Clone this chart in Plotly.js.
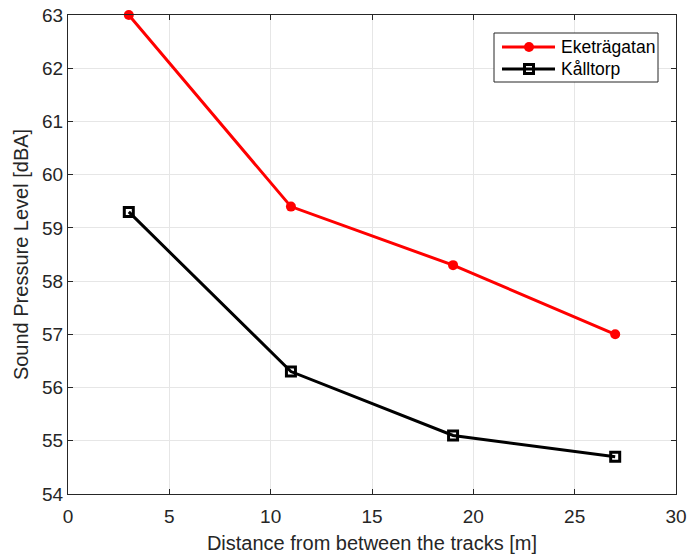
<!DOCTYPE html>
<html>
<head>
<meta charset="utf-8">
<script src="https://cdn.plot.ly/plotly-3.0.1.min.js"></script>
<style>html,body{margin:0;padding:0;background:#fff}#chart{width:688px;height:558px}</style>
</head>
<body>
<div id="chart"></div>
<script>
// Distance from the track centre line [m]
const distance = [3, 11, 19, 27];
// A-weighted sound pressure level per site [dBA]
const eketragatan = [63.0, 59.4, 58.3, 57.0];
const kalltorp = [59.3, 56.3, 55.1, 54.7];
const seriesNames = ['Eketrägatan', 'Kålltorp'];
const xTicks = [0, 5, 10, 15, 20, 25, 30];
const yTicks = [54, 55, 56, 57, 58, 59, 60, 61, 62, 63];

const W = 688, H = 558;
const M = {l: 68, r: 12, t: 15, b: 64};
const font = {family: 'Liberation Sans, Arial, sans-serif', color: '#262626'};
const RED = '#ff0000', BLACK = '#000000';

const traces = [
  {
    x: distance, y: eketragatan, name: seriesNames[0], mode: 'lines+markers',
    line: {color: RED, width: 3},
    marker: {symbol: 'circle', size: 10, color: RED},
    cliponaxis: false, showlegend: false
  },
  {
    x: distance, y: kalltorp, name: seriesNames[1], mode: 'lines+markers',
    line: {color: BLACK, width: 3},
    marker: {symbol: 'square-open', size: 9, color: BLACK, line: {width: 3, color: BLACK}},
    cliponaxis: false, showlegend: false
  }
];

// Pixel -> paper coordinate helpers for the boxed legend
const pw = W - M.l - M.r, ph = H - M.t - M.b;
const px = v => (v - M.l) / pw;
const py = v => (H - M.b - v) / ph;

const legend = {left: 494, right: 658, top: 33, bottom: 82, rows: [47, 69],
                lineFrom: 502, lineTo: 555, mark: 529, text: 559};

const shapes = [
  {type: 'rect', xref: 'paper', yref: 'paper',
   x0: px(legend.left), x1: px(legend.right), y0: py(legend.bottom), y1: py(legend.top),
   fillcolor: '#ffffff', line: {color: '#262626', width: 1}, layer: 'above'}
];
const annotations = [];
const legendStyles = [
  {color: RED, shape: 'circle', half: 5, fill: RED, lw: 0},
  {color: BLACK, shape: 'rect', half: 4.5, fill: 'rgba(0,0,0,0)', lw: 3}
];
seriesNames.forEach((name, i) => {
  const y = py(legend.rows[i]);
  const st = legendStyles[i];
  shapes.push({type: 'line', xref: 'paper', yref: 'paper',
    x0: px(legend.lineFrom), x1: px(legend.lineTo), y0: y, y1: y,
    line: {color: st.color, width: 3}, layer: 'above'});
  shapes.push({type: st.shape, xref: 'paper', yref: 'paper',
    xsizemode: 'pixel', ysizemode: 'pixel', xanchor: px(legend.mark), yanchor: y,
    x0: -st.half, x1: st.half, y0: -st.half, y1: st.half,
    fillcolor: st.fill, line: {color: st.color, width: st.lw}, layer: 'above'});
  annotations.push({xref: 'paper', yref: 'paper', x: px(legend.text), y: y,
    xanchor: 'left', yanchor: 'middle', showarrow: false, text: name,
    font: Object.assign({size: 17.5}, font, {color: BLACK})});
});

const axisCommon = {
  showline: true, mirror: 'ticks', linecolor: '#262626', linewidth: 1,
  ticks: 'inside', ticklen: 5, tickcolor: '#262626',
  showgrid: true, gridcolor: '#e6e6e6', gridwidth: 1, zeroline: false,
  tickfont: Object.assign({size: 19}, font)
};

const layout = {
  width: W, height: H,
  margin: M,
  paper_bgcolor: '#ffffff', plot_bgcolor: '#ffffff',
  showlegend: false,
  shapes: shapes,
  annotations: annotations,
  xaxis: Object.assign({}, axisCommon, {
    range: [0, 30], tickvals: xTicks, ticktext: xTicks.map(String), ticklabelstandoff: 5,
    title: {text: 'Distance from between the tracks [m]', font: Object.assign({size: 20}, font), standoff: 10}
  }),
  yaxis: Object.assign({}, axisCommon, {
    range: [54, 63], tickvals: yTicks, ticktext: yTicks.map(String),
    title: {text: 'Sound Pressure Level [dBA]', font: Object.assign({size: 20}, font), standoff: 8}
  })
};

Plotly.newPlot('chart', traces, layout, {displayModeBar: false, staticPlot: true});
</script>
</body>
</html>
